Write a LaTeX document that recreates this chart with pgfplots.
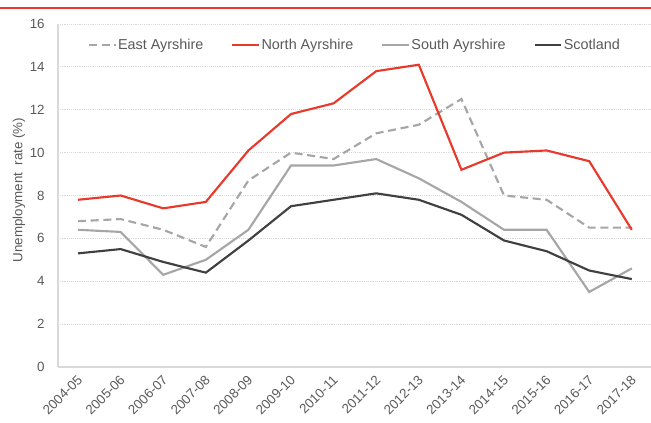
\documentclass[border=0pt]{standalone}
\usepackage{pgfplots}
\pgfplotsset{compat=1.18}
\usepackage{fontspec}
\setmainfont{Liberation Sans}
\definecolor{nred}{HTML}{E8392B}
\definecolor{lgray}{HTML}{A6A6A6}
\definecolor{dgray}{HTML}{404040}
\definecolor{txt}{HTML}{595959}
\definecolor{gridc}{HTML}{D9D9D9}
\begin{document}
\begin{tikzpicture}
\fontsize{10}{12}\selectfont
\begin{axis}[
  scale only axis,
  width=444.75pt, height=257.25pt,
  xmin=-0.47, xmax=13.45,
  ymin=0, ymax=16,
  ytick={0,2,...,16},
  xtick={0,...,13},
  xticklabels={2004-05,2005-06,2006-07,2007-08,2008-09,2009-10,2010-11,2011-12,2012-13,2013-14,2014-15,2015-16,2016-17,2017-18},
  xticklabel style={rotate=45, anchor=east, font=\fontsize{10}{12}\selectfont, text=txt, xshift=-4.6pt, yshift=-6.7pt, inner sep=0pt},
  yticklabel style={font=\fontsize{10}{12}\selectfont, text=txt, xshift=-6.5pt},
  /pgf/number format/assume math mode=true,
  axis x line*=bottom, axis y line*=left,
  x axis line style={gridc, line width=1.5pt, -},
  y axis line style={gridc, line width=0.8pt, -},
  major tick length=0pt,
  ymajorgrids,
  major grid style={gridc, densely dotted, line width=0.6pt},
  ylabel={Unemployment\ \ rate (\%)},
  ylabel style={font=\fontsize{10}{12}\selectfont, text=txt, at={(axis description cs:0,0.516)}, anchor=center, yshift=29.25pt},
  legend style={draw=none, fill=none, inner sep=0pt, at={(rel axis cs:0.05,0.939)}, anchor=west,
    legend columns=4, font=\fontsize{10.8}{12}\selectfont, text=txt,
    nodes={inner xsep=1pt},
    /tikz/every even column/.append style={column sep=20pt}},
  legend cell align=left,
  legend image code/.code={\draw[#1] (0pt,0pt) -- (20pt,0pt);},
  clip=false,
]
\addplot[lgray, line width=1.6pt, dash pattern=on 6pt off 3.5pt] coordinates {
(0,6.8)(1,6.9)(2,6.4)(3,5.6)(4,8.7)(5,10.0)(6,9.7)(7,10.9)(8,11.3)(9,12.5)(10,8.0)(11,7.8)(12,6.5)(13,6.5)};
\addlegendentry{East Ayrshire}
\addplot[nred, line width=1.6pt] coordinates {
(0,7.8)(1,8.0)(2,7.4)(3,7.7)(4,10.1)(5,11.8)(6,12.3)(7,13.8)(8,14.1)(9,9.2)(10,10.0)(11,10.1)(12,9.6)(13,6.4)};
\addlegendentry{North Ayrshire}
\addplot[lgray, line width=1.6pt] coordinates {
(0,6.4)(1,6.3)(2,4.3)(3,5.0)(4,6.4)(5,9.4)(6,9.4)(7,9.7)(8,8.8)(9,7.7)(10,6.4)(11,6.4)(12,3.5)(13,4.6)};
\addlegendentry{South Ayrshire}
\addplot[dgray, line width=1.6pt] coordinates {
(0,5.3)(1,5.5)(2,4.9)(3,4.4)(4,5.9)(5,7.5)(6,7.8)(7,8.1)(8,7.8)(9,7.1)(10,5.9)(11,5.4)(12,4.5)(13,4.1)};
\addlegendentry{Scotland}
\coordinate (O) at (rel axis cs:0,0);
\end{axis}
\pgfresetboundingbox
\path[use as bounding box] ([xshift=-43.5pt,yshift=-42pt]O) rectangle ([xshift=444.75pt,yshift=275.25pt]O);
\draw[nred, line width=2pt] ([xshift=-43.5pt,yshift=269.25pt]O) -- ([xshift=444.75pt,yshift=269.25pt]O);
\end{tikzpicture}
\end{document}
